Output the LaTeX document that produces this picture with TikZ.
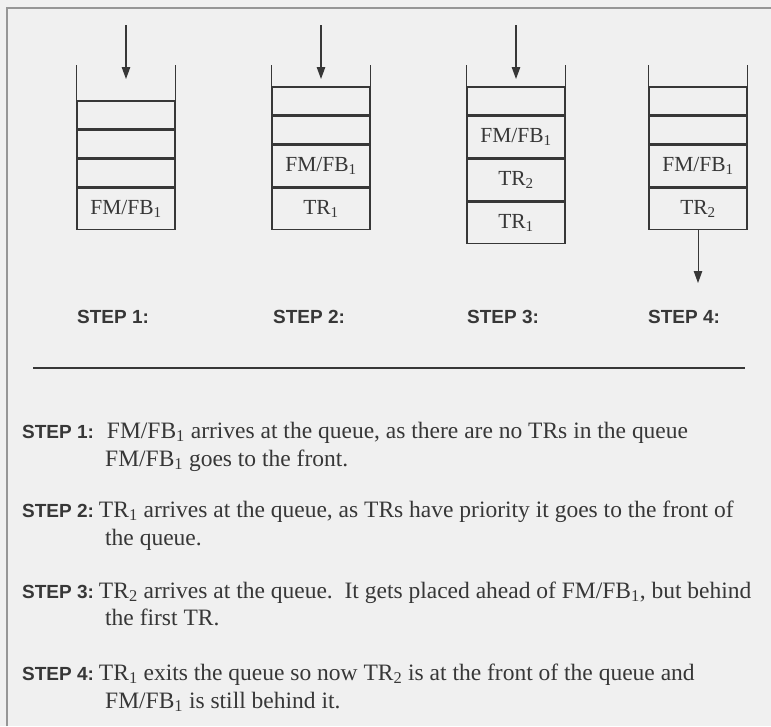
\documentclass[tikz,border=0pt]{standalone}
\usepackage{fontspec}
\setmainfont{Liberation Serif}
\setsansfont{Liberation Sans}
\usetikzlibrary{positioning,arrows.meta}
\definecolor{qink}{RGB}{55,55,55}
\definecolor{qpaper}{RGB}{240,240,240}
\definecolor{qframe}{RGB}{150,150,150}
\newcommand{\qsub}[1]{\textsubscript{#1}}
\newcommand{\steptag}[1]{{\sffamily\bfseries\fontsize{19}{23}\selectfont #1}}
\tikzset{
  slot/.style={draw=qink, line width=1.4pt, minimum width=98pt, minimum height=27.5pt,
               inner sep=0pt, font=\fontsize{21.5}{25}\selectfont, text=qink},
  full/.style={slot, minimum height=41.5pt},
  wall/.style={draw=qink, line width=1.4pt},
  feed/.style={-{Triangle[length=12pt,width=8.5pt]}, draw=qink, line width=1.2pt},
  tag/.style={font=\sffamily\bfseries\fontsize{19}{23}\selectfont, text=qink,
              anchor=base west, inner sep=0pt},
  note/.style={font=\fontsize{23.5}{28}\selectfont, text=qink, anchor=base west, inner sep=0pt},
}

\begin{document}
\begin{tikzpicture}[x=1pt, y=-1pt]
% page, pixel units with y running downwards
\fill[qpaper] (0,0) rectangle (771,726);
\useasboundingbox (0,0) rectangle (771,726);
\draw[qframe, line width=2pt] (7,726) -- (7,8) -- (771,8);

% step 1: one frame in the queue
\node[full, anchor=south] (a1) at (126,230) {FM/FB\qsub1};
\node[slot, above=0pt of a1] (a2) {};
\node[slot, above=0pt of a2] (a3) {};
\node[slot, above=0pt of a3] (a4) {};

% step 2: TR jumps to the front
\node[full, anchor=south] (b1) at (321,230) {TR\qsub1};
\node[full, above=0pt of b1] (b2) {FM/FB\qsub1};
\node[slot, above=0pt of b2] (b3) {};
\node[slot, above=0pt of b3] (b4) {};

% step 3: second TR sits behind the first
\node[full, anchor=south] (c1) at (516,244) {TR\qsub1};
\node[full, above=0pt of c1] (c2) {TR\qsub2};
\node[full, above=0pt of c2] (c3) {FM/FB\qsub1};
\node[slot, above=0pt of c3] (c4) {};

% step 4: first TR has left
\node[full, anchor=south] (d1) at (698,230) {TR\qsub2};
\node[full, above=0pt of d1] (d2) {FM/FB\qsub1};
\node[slot, above=0pt of d2] (d3) {};
\node[slot, above=0pt of d3] (d4) {};

% open walls above each queue
\coordinate (rim) at (0,65);
\foreach \s in {a,b,c,d} {
  \draw[wall] (\s4.north west) -- (\s4.north west |- rim);
  \draw[wall] (\s4.north east) -- (\s4.north east |- rim);
}

% arrivals and the exit
\foreach \s/\cx in {a/126,b/321,c/516} {
  \coordinate (\s-in) at (\cx,25);
  \coordinate (\s-drop) at (\cx,79);
  \draw[feed] (\s-in) -- (\s-drop);
}
\coordinate (d-out) at (698,283);
\draw[feed, line width=0.9pt] (d1.south) -- (d-out);

% captions under the queues
\node[tag] (la) at (77,323) {STEP 1:};
\node[tag] (lb) at (273,323) {STEP 2:};
\node[tag] (lc) at (467,323) {STEP 3:};
\node[tag] (ld) at (648,323) {STEP 4:};

\coordinate (rule-l) at (33,368);
\coordinate (rule-r) at (745,368);
\draw[qink, line width=1.8pt] (rule-l) -- (rule-r);

% explanations, continuation lines hang at 105
\node[note] (na) at (22,438) {\steptag{STEP 1:}\hspace{13pt}FM/FB\qsub1 arrives at the queue, as there are no TRs in the queue};
\node[note] (na2) at (105,466) {FM/FB\qsub1 goes to the front.};
\node[note] (nb) at (22,517) {\steptag{STEP 2:}\hspace{5pt}TR\qsub1 arrives at the queue, as TRs have priority it goes to the front of};
\node[note] (nb2) at (105,545) {the queue.};
\node[note] (nc) at (22,598) {\steptag{STEP 3:}\hspace{5pt}TR\qsub2 arrives at the queue.\ \ It gets placed ahead of FM/FB\qsub1, but behind};
\node[note] (nc2) at (105,625) {the first TR.};
\node[note] (nd) at (22,680) {\steptag{STEP 4:}\hspace{5pt}TR\qsub1 exits the queue so now TR\qsub2 is at the front of the queue and};
\node[note] (nd2) at (105,708) {FM/FB\qsub1 is still behind it.};
\end{tikzpicture}
\end{document}
